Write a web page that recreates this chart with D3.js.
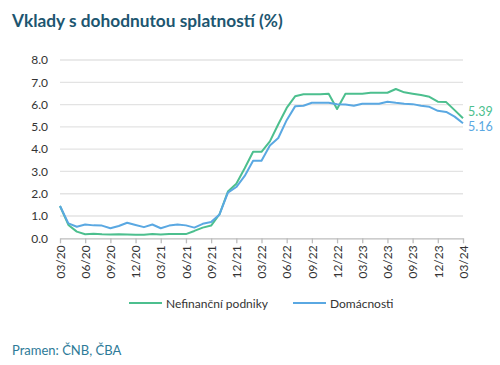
<!DOCTYPE html>
<html>
<head>
<meta charset="utf-8">
<script src="https://cdn.jsdelivr.net/npm/d3@7"></script>
<style>
  body { margin: 0; background: #fff; }
  text { font-family: Lato, "Open Sans", sans-serif; }
</style>
</head>
<body>
<div id="chart"></div>
<script>
// months from 03/20 to 03/24
var months = [];
for (var m = 0; m <= 48; m++) {
    var mo = (2 + m) % 12 + 1;
    var yr = 20 + Math.floor((2 + m) / 12);
    months.push((mo < 10 ? "0" : "") + mo + "/" + yr);
}

var seriesNames = ["Nefinanční podniky", "Domácnosti"];

var podniky = [1.45, 0.6, 0.3, 0.18, 0.2, 0.18, 0.17, 0.18, 0.17, 0.16, 0.16, 0.19,
    0.17, 0.19, 0.19, 0.19, 0.33, 0.48, 0.57, 1.08, 2.1, 2.45, 3.14, 3.88, 3.88,
    4.35, 5.12, 5.85, 6.37, 6.46, 6.46, 6.46, 6.49, 5.8, 6.49, 6.49, 6.49, 6.53,
    6.53, 6.53, 6.7, 6.55, 6.49, 6.43, 6.35, 6.13, 6.11, 5.75, 5.39];

var domacnosti = [1.45, 0.67, 0.52, 0.62, 0.58, 0.57, 0.45, 0.55, 0.7, 0.6, 0.5, 0.62,
    0.45, 0.57, 0.62, 0.58, 0.48, 0.65, 0.73, 1.07, 2.05, 2.3, 2.8, 3.48, 3.48,
    4.16, 4.5, 5.3, 5.92, 5.95, 6.08, 6.08, 6.08, 6.01, 6.0, 5.95, 6.04, 6.04,
    6.04, 6.13, 6.08, 6.04, 6.02, 5.95, 5.9, 5.72, 5.67, 5.46, 5.16];

var yTicks = [0, 1, 2, 3, 4, 5, 6, 7, 8];

var colours = ["#4cbf8e", "#5aa8e2"];

var width = 500, height = 365;

var svg = d3.select("#chart").append("svg")
    .attr("width", width)
    .attr("height", height);

// title
svg.append("text")
    .attr("x", 12)
    .attr("y", 27)
    .attr("font-size", 17.3)
    .attr("font-weight", "bold")
    .attr("fill", "#1d5670")
    .text("Vklady s dohodnutou splatností (%)");

var x = d3.scaleLinear().domain([0, 48]).range([60, 463]);
var y = d3.scaleLinear().domain([0, 8]).range([238.3, 60]);

// gridlines
svg.append("g")
    .selectAll("line")
    .data(yTicks.slice(1))
    .enter()
    .append("line")
    .attr("x1", x(0))
    .attr("x2", x(48))
    .attr("y1", function (d) { return y(d); })
    .attr("y2", function (d) { return y(d); })
    .attr("stroke", "#e3e3e3")
    .attr("stroke-width", 1.3);

// y axis labels
var yAxis = svg.append("g")
    .attr("transform", "translate(" + 60 + ",0)")
    .call(d3.axisLeft(y).tickValues(yTicks).tickFormat(d3.format(".1f")).tickSize(0).tickPadding(12));
yAxis.select(".domain").remove();
yAxis.selectAll("text").attr("font-size", 12).attr("fill", "#333").style("font-family", "Lato, sans-serif");

// x axis
var xTickIdx = d3.range(0, 49, 3);
var xAxis = svg.append("g")
    .attr("transform", "translate(0," + y(0) + ")")
    .call(d3.axisBottom(x).tickValues(xTickIdx)
        .tickFormat(function (d) { return months[d]; })
        .tickSize(5).tickSizeOuter(0));
xAxis.select(".domain").attr("stroke", "#bdbdbd").attr("stroke-width", 1.3);
xAxis.selectAll(".tick line").attr("stroke", "#bdbdbd").attr("stroke-width", 1.3);
xAxis.selectAll("text")
    .attr("font-size", 12)
    .attr("fill", "#333")
    .style("font-family", "Lato, sans-serif")
    .attr("transform", "rotate(-90)")
    .attr("text-anchor", "end")
    .attr("x", -7)
    .attr("y", 0)
    .attr("dy", "0.35em");

// lines
var line = d3.line()
    .x(function (d, i) { return x(i); })
    .y(function (d) { return y(d); });

[podniky, domacnosti].forEach(function (s, k) {
    svg.append("path")
        .datum(s)
        .attr("fill", "none")
        .attr("stroke", colours[k])
        .attr("stroke-width", 2)
        .attr("stroke-linejoin", "round")
        .attr("d", line);
});

// end labels
svg.append("text")
    .attr("x", 468)
    .attr("y", 116)
    .attr("font-size", 12.5)
    .attr("fill", colours[0])
    .text(podniky[48].toFixed(2));
svg.append("text")
    .attr("x", 468)
    .attr("y", 131)
    .attr("font-size", 12.5)
    .attr("fill", colours[1])
    .text(domacnosti[48].toFixed(2));

// legend
var legendX = [129, 293];
seriesNames.forEach(function (n, k) {
    svg.append("line")
        .attr("x1", legendX[k])
        .attr("x2", legendX[k] + 33)
        .attr("y1", 303)
        .attr("y2", 303)
        .attr("stroke", colours[k])
        .attr("stroke-width", 2);
    svg.append("text")
        .attr("x", legendX[k] + 37)
        .attr("y", 307.5)
        .attr("font-size", 12)
        .attr("fill", "#333")
        .text(n);
});

// source
svg.append("text")
    .attr("x", 12)
    .attr("y", 355)
    .attr("font-size", 13)
    .attr("fill", "#2d7a98")
    .text("Pramen: ČNB, ČBA");
</script>
</body>
</html>
